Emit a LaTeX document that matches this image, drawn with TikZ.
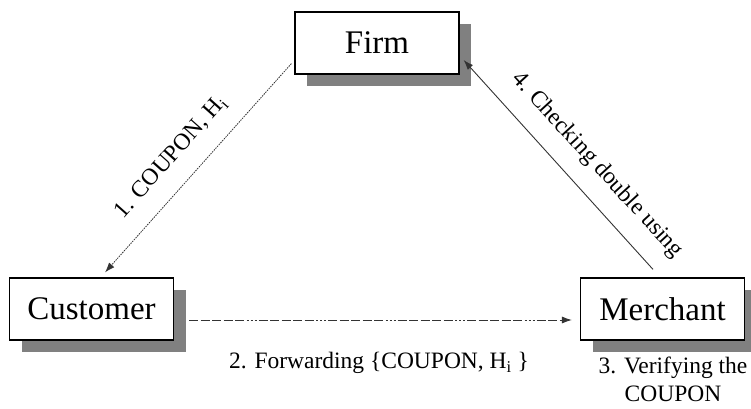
\documentclass[tikz,border=0pt]{standalone}
\usepackage{fontspec}
\setmainfont{Liberation Serif}
\usetikzlibrary{arrows.meta,shadows}
\definecolor{shadowgray}{HTML}{808080}
\definecolor{linegray}{HTML}{333333}
\begin{document}
\begin{tikzpicture}[x=1pt,y=1pt,
  entity/.style={draw=black, line width=1.2pt, fill=white,
    minimum width=164pt, minimum height=62pt, inner sep=0pt,
    font=\fontsize{33}{38}\selectfont,
    drop shadow={shadow xshift=12pt, shadow yshift=-12pt,
      fill=shadowgray, opacity=1}},
  lbl/.style={inner sep=0pt, font=\fontsize{23.5}{28}\selectfont},
  tip/.style={-{Latex[length=10pt,width=7pt]}},
  dotline/.style={tip, line width=0.8pt, draw=linegray,
    dash pattern=on 1.5pt off 1pt},
  dashdotline/.style={tip, line width=0.9pt, draw=linegray,
    dash pattern=on 9pt off 2.5pt on 9pt off 2.5pt on 9pt off 2.5pt
      on 9pt off 2.5pt on 9pt off 2.5pt on 2pt off 2pt on 2pt off 2pt on 2pt off 2pt},
  solidline/.style={tip, line width=0.9pt, draw=linegray}]
\useasboundingbox (0,0) rectangle (751,408);

% parties
\node[entity] (firm) at (377,365) {Firm};
\node[entity] (cust) at (91.5,99) {Customer};
\node[entity] (merch) at (662.5,99) {Merchant};

% message flows
\draw[dotline] ([shift={(-3,11)}]firm.south west) -- ([shift={(13.5,5)}]cust.north);
\draw[dashdotline] ([shift={(15,-11)}]cust.east) -- ([shift={(-8,-11)}]merch.west);
\draw[solidline] ([shift={(-9.5,8)}]merch.north) -- ([shift={(4,-17)}]firm.east);

% step labels
\node[lbl, rotate=48.3] (l1) at (171,251) {1. COUPON, H\textsubscript{i}};
\node[lbl] (l2) at (379,45) {2. Forwarding \{COUPON, H\textsubscript{i}\ \}};
\node[lbl, align=center] (l3) at (673,29) {3. Verifying the\\COUPON};
\node[lbl, rotate=-47.6] (l4) at (597,243) {4. Checking double using};
\end{tikzpicture}
\end{document}
